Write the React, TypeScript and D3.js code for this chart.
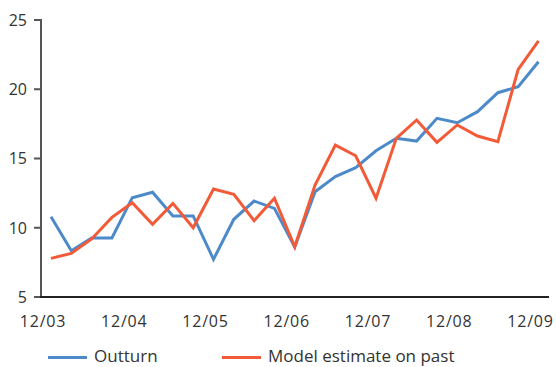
import React from "react";
import * as d3 from "d3";

const quarters = d3.range(25);
const tickLabels = ["12/03", "12/04", "12/05", "12/06", "12/07", "12/08", "12/09"];
const outturn = [10.8, 8.34, 9.26, 9.26, 12.17, 12.56, 10.85, 10.85, 7.72, 10.61, 11.93, 11.4, 8.6, 12.6, 13.69, 14.34, 15.56, 16.46, 16.26, 17.9, 17.58, 18.38, 19.75, 20.18, 21.99];
const model = [7.79, 8.15, 9.19, 10.75, 11.81, 10.25, 11.76, 10.0, 12.8, 12.41, 10.51, 12.13, 8.63, 13.09, 15.97, 15.2, 12.13, 16.46, 17.78, 16.17, 17.42, 16.62, 16.21, 21.44, 23.5];
const yTicks = [5, 10, 15, 20, 25];
const seriesNames = ["Outturn", "Model estimate on past"];

const BLUE = "#4d8ac9";
const RED = "#f25a38";
const FONT = "'Open Sans', sans-serif";

export default function App() {
  const W = 556, H = 367;
  const x = d3.scaleLinear().domain([0, 24]).range([51, 538.5]);
  const y = d3.scaleLinear().domain([5, 25]).range([297, 20]);
  const line = d3.line<number>().x((_, i) => x(i)).y((d) => y(d));
  return (
    <svg width={W} height={H} style={{ position: "absolute", left: 0, top: 0 }} fontFamily={FONT}>
      <rect width={W} height={H} fill="#fff" />
      {yTicks.map((t) => (
        <g key={t}>
          <line x1={34} x2={41} y1={y(t)} y2={y(t)} stroke="#555" strokeWidth={2} />
          <text x={27} y={y(t)} dy="0.36em" textAnchor="end" fontSize={16} fill="#333">{t}</text>
        </g>
      ))}
      <line x1={41} x2={41} y1={19} y2={297} stroke="#555" strokeWidth={2} />
      <line x1={40} x2={549} y1={297} y2={297} stroke="#222" strokeWidth={2} />
      {tickLabels.map((l, k) => (
        <text key={l} x={x(quarters[k * 4]) - 8} y={327} textAnchor="middle" fontSize={16} fill="#333" letterSpacing={0.8}>{l}</text>
      ))}
      <path d={line(outturn) || ""} fill="none" stroke={BLUE} strokeWidth={3} strokeLinejoin="miter" />
      <path d={line(model) || ""} fill="none" stroke={RED} strokeWidth={3} strokeLinejoin="miter" />
      <line x1={48} x2={87} y1={357.5} y2={357.5} stroke={BLUE} strokeWidth={3} />
      <text x={94} y={362} fontSize={17} fill="#333">{seriesNames[0]}</text>
      <line x1={222} x2={261} y1={357.5} y2={357.5} stroke={RED} strokeWidth={3} />
      <text x={268} y={362} fontSize={17} fill="#333">{seriesNames[1]}</text>
    </svg>
  );
}
